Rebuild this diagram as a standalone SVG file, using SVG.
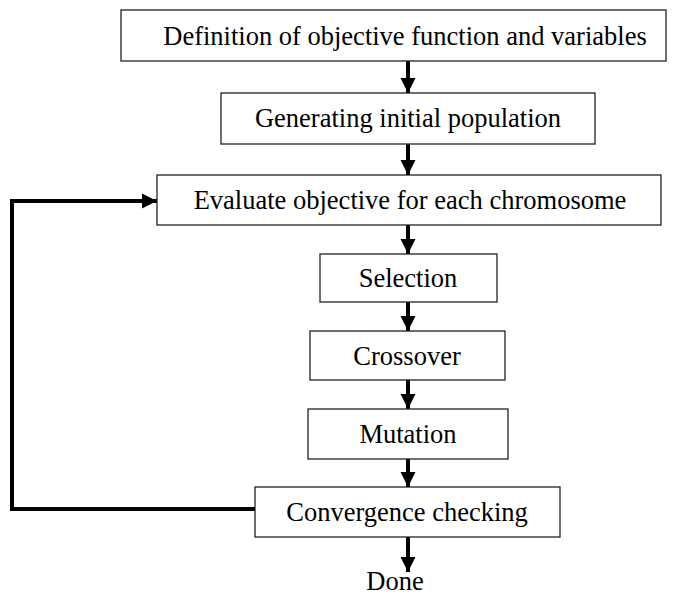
<svg xmlns="http://www.w3.org/2000/svg" width="682" height="598" viewBox="0 0 682 598">
<style>
.box{fill:#fff;stroke:#222;stroke-width:1.3}
.t{font-family:"Liberation Serif","Times New Roman",serif;font-size:26.5px;fill:#000;text-anchor:middle}
.c{stroke:#000;stroke-width:4;fill:none}
</style>
<defs>
<marker id="ah" markerWidth="16" markerHeight="16" refX="15" refY="8" orient="auto" markerUnits="userSpaceOnUse" viewBox="0 0 16 16">
<path d="M0,0.5 L15,8 L0,15.5 Z" fill="#000"/>
</marker>
</defs>
<rect width="682" height="598" fill="#fff"/>
<g id="connectors">
<line class="c" x1="408" y1="61" x2="408" y2="93" marker-end="url(#ah)"/>
<line class="c" x1="408" y1="144" x2="408" y2="175" marker-end="url(#ah)"/>
<line class="c" x1="408" y1="225" x2="408" y2="254" marker-end="url(#ah)"/>
<line class="c" x1="408" y1="302" x2="408" y2="331" marker-end="url(#ah)"/>
<line class="c" x1="408" y1="380" x2="408" y2="409" marker-end="url(#ah)"/>
<line class="c" x1="408" y1="459" x2="408" y2="487" marker-end="url(#ah)"/>
<line class="c" x1="408" y1="537" x2="408" y2="572" marker-end="url(#ah)"/>
<polyline class="c" stroke-width="4.5" points="255,509 12,509 12,201 157,201" marker-end="url(#ah)"/>
</g>
<g id="n1"><rect class="box" x="121" y="10" width="545" height="51"/><text class="t" x="405" y="45">Definition of objective function and variables</text></g>
<g id="n2"><rect class="box" x="221" y="93" width="374" height="51"/><text class="t" x="408" y="127">Generating initial population</text></g>
<g id="n3"><rect class="box" x="157" y="175" width="504" height="50"/><text class="t" x="410" y="209">Evaluate objective for each chromosome</text></g>
<g id="n4"><rect class="box" x="320" y="254" width="177" height="48"/><text class="t" x="408" y="287">Selection</text></g>
<g id="n5"><rect class="box" x="310" y="331" width="195" height="49"/><text class="t" x="407" y="365">Crossover</text></g>
<g id="n6"><rect class="box" x="308" y="409" width="200" height="50"/><text class="t" x="408" y="443">Mutation</text></g>
<g id="n7"><rect class="box" x="255" y="487" width="305" height="50"/><text class="t" x="407" y="521">Convergence checking</text></g>
<g id="n8"><text class="t" x="395" y="590">Done</text></g>
</svg>
